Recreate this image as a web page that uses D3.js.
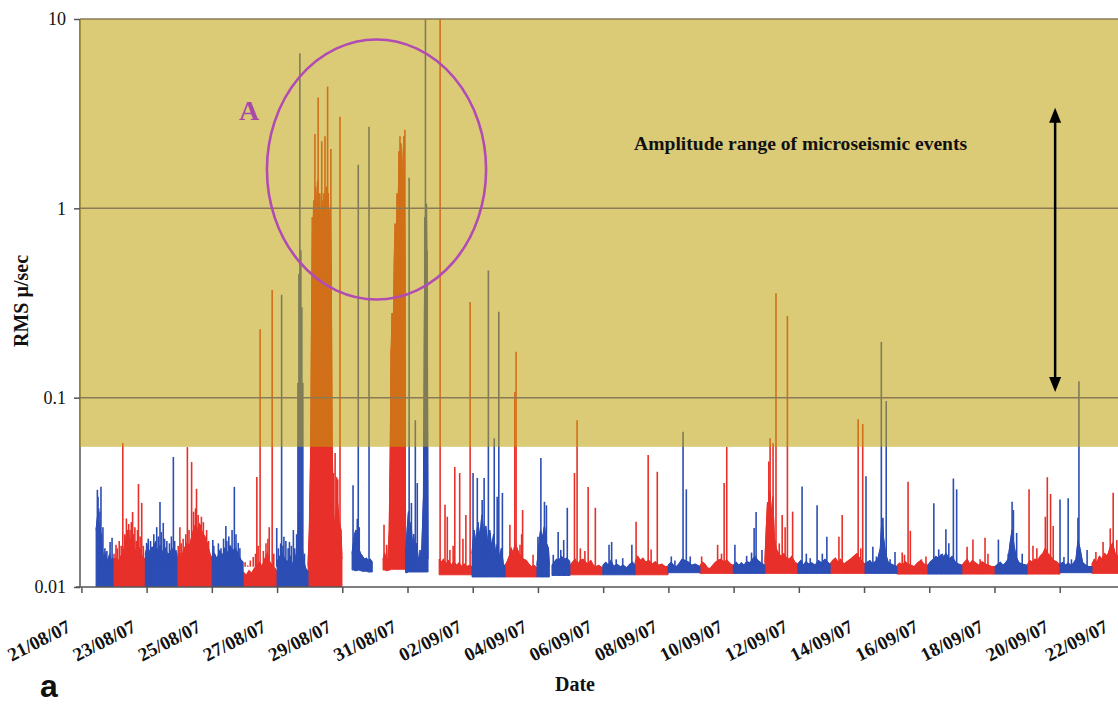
<!DOCTYPE html>
<html><head><meta charset="utf-8">
<script src="https://cdn.jsdelivr.net/npm/d3@7"></script>
<style>body{margin:0;background:#fff}svg{display:block}</style>
</head><body><svg id="c" width="1118" height="710"></svg>
<script>
// ---- data (t = days since 21/08/07 00:00, v = RMS µ/sec) ----
const startDate = Date.UTC(2007, 7, 21);
const xTickDays = [0,2,4,6,8,10,12,14,16,18,20,22,24,26,28,30,32];
const xTickLabels = ['21/08/07','23/08/07','25/08/07','27/08/07','29/08/07','31/08/07','02/09/07','04/09/07','06/09/07','08/09/07','10/09/07','12/09/07','14/09/07','16/09/07','18/09/07','20/09/07','22/09/07'];
const yTickValues = [0.01, 0.1, 1, 10];
const yTickLabels = ['0.01', '0.1', '1', '10'];
const bandRange = [0.055, 10];           // amplitude range of microseismic events
const arrowRange = [29.86, 0.107, 3.4];  // t, from, to
const circleBounds = [5.69, 12.41, 0.33, 7.8];
const labelA = [4.83, 2.93];
const labelAmp = [16.95, 2.03];

// noise envelopes [t, low, high]; null separates recording blocks
const blueNoise = [
[0.45,.008,.020],[0.50,.008,.024],[0.55,.008,.021],[0.60,.008,.019],[0.64,.008,.016],[0.68,.008,.0140],[0.74,.008,.0150],[0.80,.008,.0135],[0.86,.008,.0148],[0.92,.008,.0138],[0.97,.008,.0142],null,
[1.96,.008,.0150],[2.03,.008,.0165],[2.10,.008,.0150],[2.18,.008,.0160],[2.26,.008,.0170],[2.34,.008,.0155],[2.42,.008,.0165],[2.50,.008,.0150],[2.58,.008,.0160],[2.66,.008,.0145],[2.74,.008,.0155],[2.82,.008,.0160],[2.93,.008,.0150],null,
[4.01,.008,.0145],[4.08,.008,.0150],[4.16,.008,.0140],[4.24,.008,.0155],[4.32,.008,.0145],[4.40,.008,.0160],[4.48,.008,.0150],[4.56,.008,.0165],[4.64,.008,.0155],[4.72,.008,.0160],[4.80,.008,.0150],[4.88,.008,.0140],[4.96,.008,.0135],null,
[6.00,.008,.0135],[6.08,.008,.0145],[6.16,.008,.0150],[6.24,.008,.0140],[6.32,.008,.0135],[6.40,.008,.0145],[6.48,.008,.0130],[6.56,.008,.0140],[6.62,.008,.0160],[6.68,.008,.0250],[6.74,.008,.0200],[6.80,.008,.0140],[6.88,.008,.0125],[6.95,.008,.0120],null,
[8.30,.0123,.0150],[8.34,.0123,.0170],[8.38,.0122,.0190],[8.42,.0122,.0200],[8.46,.0122,.0175],[8.50,.0123,.0160],[8.56,.0122,.0150],[8.62,.0121,.0145],[8.68,.0121,.0140],[8.74,.0121,.0142],[8.80,.0120,.0138],[8.86,.0120,.0140],[8.92,.0120,.0135],null,
[9.94,.0119,.015],[9.99,.0119,.020],[10.03,.012,.025],[10.07,.012,.018],[10.11,.012,.022],[10.15,.012,.016],[10.19,.012,.019],[10.23,.012,.015],[10.28,.012,.017],[10.33,.012,.014],[10.38,.012,.0145],[10.44,.012,.016],[10.49,.012,.03],[10.52,.012,.3],[10.55,.012,.8],[10.58,.012,1.0],[10.61,.012,.2],[10.63,.012,.014],null,
[11.98,.0113,.015],[12.04,.0113,.020],[12.10,.0113,.017],[12.16,.0113,.022],[12.22,.0113,.018],[12.28,.0113,.024],[12.34,.0113,.019],[12.40,.0113,.021],[12.46,.0113,.017],[12.52,.0113,.020],[12.58,.0113,.016],[12.64,.0113,.019],[12.70,.0113,.015],[12.76,.0113,.017],[12.82,.0113,.014],[12.88,.0113,.016],[12.94,.0113,.013],[12.99,.0113,.013],null,
[13.97,.0113,.013],[14.02,.0113,.016],[14.08,.0113,.020],[14.14,.0113,.018],[14.20,.0113,.021],[14.26,.0113,.017],[14.32,.0113,.016],[14.35,.0113,.013],null,
[14.43,.0115,.0130],[14.50,.0115,.0135],[14.57,.0115,.0140],[14.64,.0115,.0138],[14.72,.0115,.0145],[14.80,.0115,.0140],[14.88,.0115,.0142],[14.98,.0115,.0136],null,
[15.99,.0116,.013],[16.08,.0116,.0135],[16.16,.0116,.0130],[16.24,.0116,.0138],[16.32,.0116,.0128],[16.42,.0116,.0132],[16.52,.0116,.0128],[16.62,.0116,.0130],[16.72,.0116,.0126],[16.82,.0116,.0132],[16.90,.0116,.0135],[16.98,.0116,.0130],null,
[17.99,.0119,.013],[18.08,.0119,.0135],[18.16,.0119,.0130],[18.24,.0119,.0128],[18.32,.0119,.0132],[18.42,.0119,.0140],[18.52,.0119,.0138],[18.62,.0119,.0135],[18.72,.0119,.0130],[18.82,.0119,.0132],[18.90,.0119,.0130],[18.97,.0119,.0128],null,
[19.99,.0118,.013],[20.08,.0118,.0135],[20.16,.0118,.0130],[20.24,.0118,.0134],[20.32,.0118,.0130],[20.40,.0118,.0136],[20.50,.0118,.0134],[20.58,.0118,.0140],[20.66,.0118,.0145],[20.74,.0118,.0138],[20.84,.0118,.0134],[20.96,.0118,.0130],null,
[21.97,.0118,.0132],[22.06,.0118,.0138],[22.14,.0118,.0130],[22.22,.0118,.0136],[22.30,.0118,.0132],[22.40,.0118,.0134],[22.50,.0118,.0130],[22.60,.0118,.0138],[22.70,.0118,.0134],[22.80,.0118,.0140],[22.88,.0118,.0135],[22.96,.0118,.0132],null,
[24.03,.0118,.0132],[24.10,.0118,.0135],[24.18,.0118,.0138],[24.26,.0118,.0132],[24.34,.0118,.0136],[24.42,.0118,.0140],[24.50,.0118,.0160],[24.55,.0118,.0230],[24.60,.0118,.0180],[24.66,.0118,.0150],[24.74,.0118,.0135],[24.84,.0118,.0132],[24.92,.0118,.0130],[25.01,.0118,.0128],null,
[25.96,.0117,.0130],[26.04,.0117,.0136],[26.12,.0117,.0140],[26.20,.0117,.0145],[26.28,.0117,.0142],[26.36,.0117,.0148],[26.44,.0117,.0145],[26.52,.0117,.0150],[26.60,.0117,.0140],[26.70,.0117,.0145],[26.80,.0117,.0135],[26.90,.0117,.0132],[27.00,.0117,.0130],null,
[28.02,.0117,.0128],[28.10,.0117,.0132],[28.18,.0117,.0135],[28.26,.0117,.0130],[28.34,.0117,.0134],[28.42,.0117,.0140],[28.48,.0117,.0170],[28.54,.0117,.0200],[28.60,.0117,.0165],[28.66,.0117,.0145],[28.74,.0117,.0135],[28.84,.0117,.0132],[29.00,.0117,.0130],null,
[30.01,.0119,.0132],[30.10,.0119,.0135],[30.18,.0119,.0130],[30.26,.0119,.0134],[30.34,.0119,.0130],[30.42,.0119,.0133],[30.50,.0119,.0140],[30.56,.0119,.0175],[30.62,.0119,.0160],[30.70,.0119,.0135],[30.80,.0119,.0130],[30.90,.0119,.0128],[30.99,.0119,.0128]
];
const redNoise = [
[0.97,.008,.0138],[1.05,.008,.0142],[1.12,.008,.0135],[1.20,.008,.0145],[1.28,.008,.0150],[1.36,.008,.0180],[1.42,.008,.0200],[1.48,.008,.0170],[1.55,.008,.0185],[1.62,.008,.0160],[1.70,.008,.0150],[1.78,.008,.0160],[1.86,.008,.0145],[1.96,.008,.0140],null,
[2.93,.008,.0140],[3.00,.008,.0150],[3.08,.008,.0145],[3.16,.008,.0160],[3.24,.008,.0170],[3.32,.008,.0165],[3.40,.008,.0190],[3.48,.008,.0210],[3.55,.008,.0200],[3.62,.008,.0215],[3.70,.008,.0195],[3.78,.008,.0185],[3.86,.008,.0170],[3.94,.008,.0150],[4.01,.008,.0140],null,
[4.96,.008,.0120],[5.05,.008,.0115],[5.14,.008,.0122],[5.22,.008,.0118],[5.30,.008,.0125],[5.38,.008,.0130],[5.46,.008,.0135],[5.54,.008,.0128],[5.62,.008,.0140],[5.70,.008,.0150],[5.78,.008,.0135],[5.86,.008,.0130],[5.94,.008,.0125],[6.00,.008,.0120],null,
[6.95,.008,.013],[6.99,.008,.02],[7.03,.008,.05],[7.06,.008,.3],[7.08,.008,.9],[7.10,.008,.6],[7.12,.008,1.1],[7.15,.008,.8],[7.18,.008,1.3],[7.21,.008,.9],[7.24,.008,1.4],[7.28,.008,.8],[7.31,.008,1.2],[7.34,.008,.7],[7.38,.008,1.1],[7.41,.008,.8],[7.44,.008,1.2],[7.48,.008,.9],[7.51,.008,1.3],[7.54,.008,.8],[7.57,.008,1.2],[7.60,.008,.7],[7.63,.008,1.0],[7.66,.008,.5],[7.69,.008,.06],[7.72,.008,.025],[7.78,.008,.02],[7.84,.008,.03],[7.90,.008,.022],[7.96,.008,.02],[7.99,.008,.014],null,
[9.25,.0123,.0140],[9.30,.0123,.0150],[9.35,.0122,.0138],[9.40,.0122,.0140],[9.44,.0123,.0200],[9.47,.0123,.05],[9.50,.0124,.18],[9.53,.0124,.28],[9.56,.0124,.2],[9.59,.0124,.5],[9.62,.0124,.83],[9.65,.0124,.6],[9.68,.0124,1.2],[9.71,.0124,.9],[9.74,.0124,2.0],[9.77,.0124,1.3],[9.80,.0124,2.2],[9.83,.0124,1.0],[9.86,.0124,1.8],[9.89,.0124,2.4],[9.92,.0124,.5],[9.94,.0124,.015],null,
[10.97,.0116,.014],[11.04,.0116,.0135],[11.10,.0116,.0140],[11.18,.0116,.0132],[11.26,.0116,.0138],[11.34,.0116,.0130],[11.42,.0116,.0136],[11.50,.0116,.0130],[11.58,.0116,.0134],[11.66,.0116,.0128],[11.74,.0116,.0132],[11.82,.0116,.0128],[11.90,.0116,.0130],[11.98,.0116,.0128],null,
[12.99,.0113,.013],[13.05,.0113,.0135],[13.12,.0113,.0145],[13.18,.0113,.016],[13.24,.0113,.0150],[13.30,.0113,.0170],[13.36,.0113,.0160],[13.42,.0113,.0150],[13.48,.0113,.0145],[13.56,.0113,.0140],[13.64,.0113,.0138],[13.72,.0113,.0132],[13.80,.0113,.0128],[13.88,.0113,.0130],[13.97,.0113,.0126],null,
[14.98,.0116,.013],[15.06,.0116,.0135],[15.14,.0116,.0140],[15.22,.0116,.0132],[15.30,.0116,.0138],[15.38,.0116,.0140],[15.46,.0116,.0135],[15.54,.0116,.0132],[15.62,.0116,.0138],[15.70,.0116,.0130],[15.78,.0116,.0128],[15.86,.0116,.0130],[15.99,.0116,.0126],null,
[16.98,.0116,.0135],[17.06,.0116,.0145],[17.14,.0116,.0138],[17.22,.0116,.0142],[17.30,.0116,.0135],[17.40,.0116,.0138],[17.50,.0116,.0132],[17.60,.0116,.0136],[17.70,.0116,.0130],[17.80,.0116,.0132],[17.90,.0116,.0128],[17.99,.0116,.0128],null,
[18.97,.0118,.013],[19.05,.0118,.0135],[19.12,.0118,.0132],[19.20,.0118,.0126],[19.28,.0118,.0125],[19.36,.0118,.0130],[19.44,.0118,.0135],[19.52,.0118,.0138],[19.60,.0118,.0140],[19.70,.0118,.0136],[19.80,.0118,.0138],[19.90,.0118,.0132],[19.99,.0118,.0130],null,
[20.96,.0118,.0135],[21.00,.0118,.020],[21.04,.0118,.028],[21.08,.0118,.025],[21.12,.0118,.032],[21.16,.0118,.022],[21.20,.0118,.030],[21.25,.0118,.018],[21.30,.0118,.016],[21.38,.0118,.0150],[21.46,.0118,.0145],[21.54,.0118,.0150],[21.62,.0118,.0142],[21.70,.0118,.0140],[21.78,.0118,.0145],[21.88,.0118,.0135],[21.97,.0118,.0132],null,
[22.96,.0118,.0132],[23.04,.0118,.0138],[23.12,.0118,.0142],[23.20,.0118,.0135],[23.28,.0118,.0140],[23.38,.0118,.0132],[23.48,.0118,.0136],[23.58,.0118,.0140],[23.68,.0118,.0145],[23.78,.0118,.0150],[23.88,.0118,.0140],[23.96,.0118,.0135],[24.03,.0118,.0132],null,
[25.01,.0117,.0130],[25.10,.0117,.0134],[25.18,.0117,.0130],[25.26,.0117,.0136],[25.34,.0117,.0132],[25.44,.0117,.0130],[25.54,.0117,.0128],[25.64,.0117,.0134],[25.74,.0117,.0138],[25.84,.0117,.0132],[25.96,.0117,.0130],null,
[27.00,.0117,.0130],[27.08,.0117,.0135],[27.16,.0117,.0140],[27.24,.0117,.0132],[27.32,.0117,.0138],[27.42,.0117,.0134],[27.52,.0117,.0130],[27.62,.0117,.0136],[27.72,.0117,.0132],[27.82,.0117,.0130],[27.92,.0117,.0128],[28.02,.0117,.0128],null,
[29.00,.0117,.0130],[29.08,.0117,.0138],[29.16,.0117,.0135],[29.24,.0117,.0140],[29.32,.0117,.0138],[29.40,.0117,.0145],[29.48,.0117,.0150],[29.56,.0117,.0160],[29.64,.0117,.0150],[29.72,.0117,.0145],[29.82,.0117,.0138],[29.92,.0117,.0135],[30.01,.0117,.0130],null,
[30.99,.0118,.0132],[31.06,.0118,.0140],[31.14,.0118,.0135],[31.22,.0118,.0145],[31.30,.0118,.0140],[31.38,.0118,.0150],[31.46,.0118,.0145],[31.54,.0118,.0160],[31.62,.0118,.0170],[31.70,.0118,.0150],[31.80,.0118,.0145],[31.90,.0118,.0140]
];
// spikes [t, peak]
const blueSpikes = [
[0.49,.0326],[0.51,.030],[0.53,.026],[0.57,.025],[0.60,.0338],[0.62,.019],[0.66,.0207],[0.72,.0160],[0.78,.0155],[0.88,.0173],[0.94,.0182],
[2.00,.0171],[2.05,.0180],[2.12,.0175],[2.16,.0163],[2.22,.0190],[2.28,.0175],[2.31,.0207],[2.36,.0185],[2.41,.0281],[2.45,.0195],[2.51,.0218],[2.55,.0180],[2.62,.0175],[2.66,.0151],[2.70,.0170],[2.76,.0185],[2.82,.0486],[2.86,.0175],[2.90,.0157],
[4.03,.0177],[4.06,.0165],[4.15,.0134],[4.20,.0170],[4.28,.0160],[4.36,.0180],[4.43,.021],[4.46,.0175],[4.52,.0185],[4.58,.0163],[4.62,.0200],[4.69,.0338],[4.74,.0190],[4.81,.0171],[4.86,.0160],
[5.99,.0205],[6.04,.0160],[6.11,.0170],[6.14,.35],[6.18,.0165],[6.21,.0184],[6.27,.0175],[6.34,.0160],[6.38,.0173],[6.44,.0165],[6.50,.020],[6.54,.0160],[6.60,.0190],[6.64,.12],[6.67,.45],[6.70,6.6],[6.73,.6],[6.76,.3],[6.79,.12],[6.84,.0150],[6.91,.0128],
[8.33,.0345],[8.46,.0229],[8.49,1.7],[8.52,.0207],[8.82,2.7],
[10.05,1.45],[10.12,.0278],[10.24,.076],[10.30,.0354],[10.38,.0157],[10.53,.9],[10.55,11],[10.58,1.06],[10.60,.6],
[12.01,.040],[12.14,.0377],[12.29,.0288],[12.35,.0377],[12.48,.47],[12.53,.0193],[12.66,.061],[12.75,.030],[12.80,.284],[12.91,.0314],
[14.00,.0184],[14.09,.048],[14.20,.0282],[14.26,.027],
[14.47,.0148],[14.62,.0195],[14.70,.0157],[14.79,.0177],[14.90,.0262],
[16.18,.0167],[16.26,.0173],[16.40,.0140],[16.60,.0142],[16.88,.0167],
[18.09,.0145],[18.20,.0138],[18.45,.066],[18.55,.0328],[18.67,.0145],
[20.04,.0167],[20.40,.0146],[20.55,.0152],[20.63,.0205],[20.69,.0249],[20.87,.0157],
[22.10,.0339],[22.23,.0150],[22.35,.0142],[22.56,.027],[22.72,.0150],[22.86,.0184],
[24.06,.0385],[24.27,.0163],[24.38,.0145],[24.53,.197],[24.58,.0232],[24.68,.096],[24.80,.0140],[24.95,.0153],
[26.14,.0277],[26.29,.0158],[26.40,.0150],[26.51,.0202],[26.60,.0170],[26.74,.0374],[26.84,.0328],
[28.12,.0178],[28.42,.0150],[28.54,.0282],[28.58,.0255],[28.68,.0193],[28.85,.0150],
[30.01,.029],[30.13,.0144],[30.26,.0294],[30.36,.0140],[30.56,.0232],[30.59,.122],[30.84,.0157]
];
const redSpikes = [
[1.00,.0150],[1.06,.0167],[1.10,.0160],[1.16,.0175],[1.22,.0165],[1.27,.0576],[1.33,.0190],[1.38,.0230],[1.41,.0193],[1.45,.0215],[1.49,.020],[1.53,.0220],[1.57,.0249],[1.60,.0190],[1.64,.0207],[1.68,.0175],[1.72,.0200],[1.75,.035],[1.80,.0185],[1.85,.0278],[1.90,.0165],
[2.97,.0165],[3.02,.0207],[3.06,.0170],[3.12,.0180],[3.20,.0190],[3.25,.0548],[3.30,.0200],[3.38,.0457],[3.44,.0250],[3.50,.0260],[3.53,.033],[3.58,.0240],[3.64,.0213],[3.68,.0235],[3.74,.0220],[3.79,.0184],[3.84,.0200],[3.90,.0175],
[5.02,.0135],[5.10,.0130],[5.18,.0138],[5.27,.0144],[5.34,.0150],[5.38,.0381],[5.42,.0165],[5.48,.23],[5.58,.0155],[5.66,.0170],[5.72,.0180],[5.76,.0207],[5.85,.37],[5.90,.0150],
[7.16,2.47],[7.26,3.85],[7.37,2.26],[7.47,2.4],[7.55,4.4],[7.65,2.06],[7.73,.040],[7.78,.051],[7.83,.038],[7.86,.037],[7.93,3.05],
[9.28,.0213],[9.36,.0167],[9.50,.18],[9.53,.28],[9.65,.83],[9.77,2.4],[9.92,2.6],
[11.00,11],[11.15,.0272],[11.22,.0235],[11.30,.0157],[11.40,.0165],[11.45,.043],[11.60,.040],[11.70,.018],[11.79,.024],[11.92,.32],
[13.14,.0213],[13.29,.107],[13.33,.175],[13.45,.0167],[13.50,.019],[13.53,.0255],[13.85,.0148],
[15.12,.040],[15.20,.076],[15.30,.016],[15.44,.0155],[15.54,.0337],[15.76,.0262],
[17.01,.0221],[17.38,.0498],[17.47,.0158],[17.66,.0406],
[19.02,.0145],[19.51,.0167],[19.63,.0150],[19.71,.0354],[19.79,.055],
[21.08,.046],[21.12,.061],[21.21,.0575],[21.30,.356],[21.40,.017],[21.49,.024],[21.58,.0207],[21.65,.27],[21.81,.025],
[23.23,.0184],[23.33,.024],[23.70,.0145],[23.82,.077],[23.90,.0160],[23.96,.0725],
[25.17,.0152],[25.24,.0148],[25.35,.036],[25.42,.0198],[25.76,.0140],[25.90,.0145],
[27.16,.0163],[27.34,.0178],[27.56,.0140],[27.71,.0182],[27.80,.0150],
[29.06,.0328],[29.18,.0165],[29.30,.0160],[29.56,.0235],[29.62,.038],[29.72,.031],[29.80,.0210],
[31.11,.0153],[31.22,.0145],[31.33,.0173],[31.55,.0204],[31.64,.0315],[31.75,.0177]
];

// ---- drawing ----
const DAY = 86400000;
const toDate = t => new Date(startDate + t * DAY);
const svg = d3.select('#c');
const W = 1118, H = 710;
const plotLeft = 80, plotTop = 19, plotBottom = 587;
const x = d3.scaleUtc().domain([toDate(0), toDate(32)]).range([81.4, 81.4 + 32 * 32.61]);
const y = d3.scaleLog().domain([0.01, 10]).range([plotBottom, plotTop]);
const BLUE = '#2c4db4', RED = '#e8302a';
const serif = "'Liberation Serif','Times New Roman',serif";

svg.append('defs').append('clipPath').attr('id', 'clip')
  .append('rect').attr('x', plotLeft).attr('y', plotTop).attr('width', W - plotLeft).attr('height', plotBottom - plotTop);

const g = svg.append('g').attr('clip-path', 'url(#clip)');

const area = d3.area().defined(d => d !== null)
  .x(d => x(toDate(d[0]))).y0(d => y(d[1])).y1(d => y(d[2])).curve(d3.curveLinear);
const line = d3.line().defined(d => d !== null)
  .x(d => x(toDate(d[0]))).y(d => y(d[2]));

function drawSeries(noise, spikes, col) {
  g.append('path').attr('d', area(noise)).attr('fill', col).attr('stroke', col).attr('stroke-width', 1);
  g.append('path').attr('d', line(noise)).attr('fill', 'none').attr('stroke', col).attr('stroke-width', 1.2);
  g.append('g').selectAll('line').data(spikes).join('line')
    .attr('x1', d => x(toDate(d[0]))).attr('x2', d => x(toDate(d[0])))
    .attr('y1', y(0.0128)).attr('y2', d => y(Math.min(d[1], 10.5)))
    .attr('stroke', col).attr('stroke-width', 1.6);
}
drawSeries(redNoise, redSpikes, RED);
drawSeries(blueNoise, blueSpikes, BLUE);

// y axis line (under overlay)
svg.append('line').attr('x1', plotLeft).attr('x2', plotLeft).attr('y1', plotTop).attr('y2', plotBottom)
  .attr('stroke', '#555').attr('stroke-width', 1.5);

// translucent band on top of data
svg.append('rect').attr('x', plotLeft).attr('y', y(bandRange[1])).attr('width', W - plotLeft)
  .attr('height', y(bandRange[0]) - y(bandRange[1]))
  .attr('fill', 'rgb(190,162,12)').attr('fill-opacity', 0.56);

// gridlines
svg.append('g').selectAll('line').data(yTickValues.filter(v => v > 0.01)).join('line')
  .attr('x1', plotLeft).attr('x2', W).attr('y1', d => y(d)).attr('y2', d => y(d))
  .attr('stroke', '#8a7a55').attr('stroke-width', 1.5);

// axes
const yAxis = d3.axisLeft(y).tickValues(yTickValues).tickFormat((d, i) => yTickLabels[i]).tickSize(6).tickPadding(8);
const ya = svg.append('g').attr('transform', `translate(${plotLeft},0)`).call(yAxis);
ya.select('.domain').remove();
ya.selectAll('line').attr('stroke', '#555').attr('stroke-width', 1.5);
ya.selectAll('text').attr('font-family', serif).attr('font-size', 18).attr('fill', '#111');

const xAxis = d3.axisBottom(x).tickValues(xTickDays.map(toDate)).tickFormat((d, i) => xTickLabels[i]).tickSize(6).tickSizeOuter(0);
const xa = svg.append('g').attr('transform', `translate(0,${plotBottom})`).call(xAxis);
xa.select('.domain').attr('stroke', '#555').attr('stroke-width', 1.5).attr('d', `M${plotLeft - 4},0H${W}`);
xa.selectAll('.tick line').attr('stroke', '#555').attr('stroke-width', 1.5);
xa.selectAll('.tick text')
  .attr('font-family', serif).attr('font-size', 19).attr('font-weight', 'bold').attr('fill', '#111')
  .attr('text-anchor', 'end').attr('dy', null).attr('y', null)
  .attr('transform', (d, i) => `translate(${i === xTickLabels.length - 1 ? -16 : -10},44) rotate(-27)`);

// axis titles
svg.append('text').attr('transform', 'translate(28,301) rotate(-90)').attr('text-anchor', 'middle')
  .attr('font-family', serif).attr('font-weight', 'bold').attr('font-size', 20).attr('fill', '#111').text('RMS µ/sec');
svg.append('text').attr('x', 575).attr('y', 691).attr('text-anchor', 'middle')
  .attr('font-family', serif).attr('font-weight', 'bold').attr('font-size', 20).attr('fill', '#111').text('Date');
svg.append('text').attr('x', 40).attr('y', 697)
  .attr('font-family', "'Liberation Sans',Arial,sans-serif").attr('font-weight', 'bold').attr('font-size', 32).attr('fill', '#111').text('a');

// annotations
const cx0 = x(toDate(circleBounds[0])), cx1 = x(toDate(circleBounds[1]));
const cy0 = y(circleBounds[3]), cy1 = y(circleBounds[2]);
svg.append('ellipse').attr('cx', (cx0 + cx1) / 2).attr('cy', (cy0 + cy1) / 2)
  .attr('rx', (cx1 - cx0) / 2).attr('ry', (cy1 - cy0) / 2)
  .attr('fill', 'none').attr('stroke', '#b04cb4').attr('stroke-width', 2.6);
svg.append('text').attr('x', x(toDate(labelA[0]))).attr('y', y(labelA[1]))
  .attr('font-family', serif).attr('font-weight', 'bold').attr('font-size', 28).attr('fill', '#a848a8').text('A');
svg.append('text').attr('x', x(toDate(labelAmp[0]))).attr('y', y(labelAmp[1]))
  .attr('font-family', serif).attr('font-weight', 'bold').attr('font-size', 18).attr('fill', '#111')
  .attr('textLength', 333).attr('lengthAdjust', 'spacingAndGlyphs')
  .text('Amplitude range of microseismic events');

// double arrow
const ax = x(toDate(arrowRange[0])), ayB = y(arrowRange[1]), ayT = y(arrowRange[2]);
svg.append('line').attr('x1', ax).attr('x2', ax).attr('y1', ayT + 8).attr('y2', ayB - 8)
  .attr('stroke', '#000').attr('stroke-width', 2.5);
svg.append('path').attr('d', `M${ax},${ayT}L${ax - 6},${ayT + 15}L${ax + 6},${ayT + 15}Z`).attr('fill', '#000');
svg.append('path').attr('d', `M${ax},${ayB}L${ax - 6},${ayB - 15}L${ax + 6},${ayB - 15}Z`).attr('fill', '#000');
</script></body></html>
